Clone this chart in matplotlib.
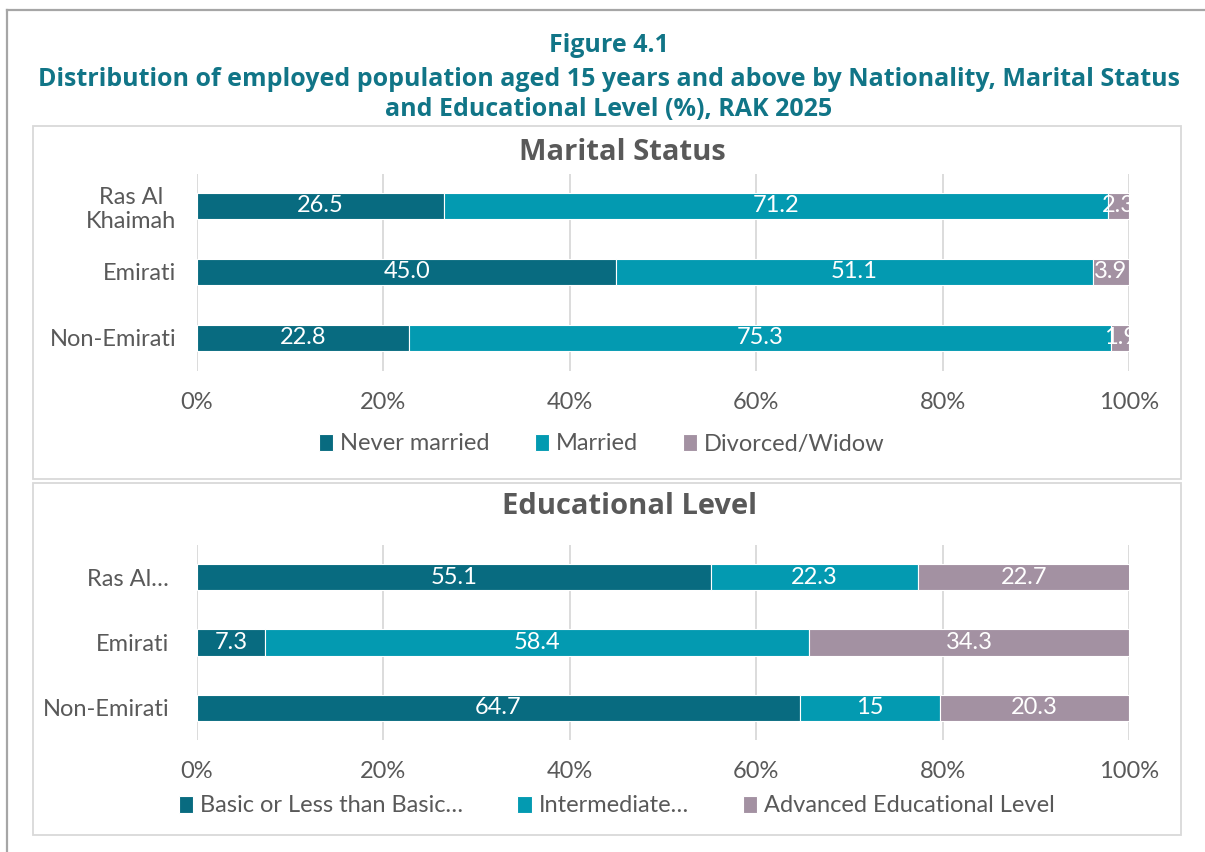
import matplotlib.pyplot as plt
from matplotlib.patches import Rectangle
from matplotlib.lines import Line2D
import numpy as np

# data
groups_marital = ['Ras Al\nKhaimah', 'Emirati', 'Non-Emirati']
marital_labels = ['Never married', 'Married', 'Divorced/Widow']
never_married = [26.5, 45.0, 22.8]
married = [71.2, 51.1, 75.3]
divorced = [2.3, 3.9, 1.9]

groups_edu = ['Ras Al…', 'Emirati', 'Non-Emirati']
edu_labels = ['Basic or Less than Basic…', 'Intermediate…', 'Advanced Educational Level']
basic = [55.1, 7.3, 64.7]
intermediate = [22.3, 58.4, 15]
advanced = [22.7, 34.3, 20.3]

xticks = [0, 20, 40, 60, 80, 100]

colors = ['#086b80', '#039ab1', '#a391a2']
teal = '#117587'
grey_txt = '#595959'

W, H = 1205, 852
plt.rcParams['font.family'] = ['Lato', 'DejaVu Sans']

fig = plt.figure(figsize=(W / 100, H / 100), dpi=100)


def fx(px):
    return px / W


def fy(py):
    return 1 - py / H


# outer frame (only top and left visible) and the two panel boxes
fig.add_artist(Line2D([fx(7), 1], [fy(10), fy(10)], color='#a6a6a6', lw=1.6))
fig.add_artist(Line2D([fx(7), fx(7)], [fy(10), 0], color='#a6a6a6', lw=1.6))
for top, bot in [(126, 479), (483, 835)]:
    fig.add_artist(Rectangle((fx(33), fy(bot)), fx(1181) - fx(33), fy(top) - fy(bot),
                             transform=fig.transFigure, fill=False,
                             edgecolor='#d9d9d9', lw=1.3))

# figure title
title_kw = dict(ha='center', va='center', fontsize=18, fontweight='bold',
                color=teal, family='Open Sans')
fig.text(fx(609), fy(45), 'Figure 4.1', **title_kw)
fig.text(fx(609), fy(79), 'Distribution of employed population aged 15 years and above by Nationality, Marital Status',
         **title_kw)
fig.text(fx(609), fy(109), 'and Educational Level (%), RAK 2025', **title_kw)


def draw_panel(top_px, bot_px, first_c, last_c, groups, series, names, fmt,
               title, title_x, title_y, leg_x, leg_y, label_pad, colspace):
    unit = (last_c - first_c) / 2
    ax = fig.add_axes([fx(197), fy(bot_px), fx(1129) - fx(197), fy(top_px) - fy(bot_px)])
    y = np.arange(len(groups))
    left = np.zeros(len(groups))
    for vals, name, c in zip(series, names, colors):
        vals = np.array(vals, dtype=float)
        bars = ax.barh(y, vals, left=left, height=0.4, color=c, edgecolor='white',
                       linewidth=0.8, label=name, zorder=3)
        for b, v in zip(bars, vals):
            ax.text(b.get_x() + b.get_width() / 2, b.get_y() + b.get_height() / 2,
                    fmt(v), ha='center', va='center', color='white', fontsize=17,
                    zorder=4, clip_on=False)
        left += vals
    ax.set_xlim(0, 100)
    ax.set_ylim(2 + (bot_px - last_c) / unit, -(first_c - top_px) / unit)
    ax.set_yticks(y)
    ax.set_yticklabels(groups, multialignment='center')
    ax.set_xticks(xticks)
    ax.set_xticklabels([f'{t}%' for t in xticks])
    ax.tick_params(axis='x', length=0, pad=15, labelsize=17, labelcolor=grey_txt)
    ax.tick_params(axis='y', length=0, pad=label_pad, labelsize=17, labelcolor=grey_txt)
    ax.grid(axis='x', color='#d9d9d9', lw=1.3, zorder=0)
    for s in ax.spines.values():
        s.set_visible(False)
    ax.set_facecolor('none')
    fig.text(fx(title_x), fy(title_y), title, ha='center', va='center', fontsize=21,
             fontweight='bold', color=grey_txt, family='Open Sans')
    handles, labels = ax.get_legend_handles_labels()
    fig.legend(handles, labels, loc='center', bbox_to_anchor=(fx(leg_x), fy(leg_y)),
               ncol=3, frameon=False, fontsize=17, labelcolor=grey_txt,
               handlelength=0.6, handleheight=0.7, handletextpad=0.3,
               columnspacing=colspace)
    return ax


draw_panel(174, 371, 206, 338, groups_marital, [never_married, married, divorced],
           marital_labels, lambda v: f'{v:.1f}', 'Marital Status', 622, 152, 602, 444, 15, 1.9)
draw_panel(545, 740, 577, 708, groups_edu, [basic, intermediate, advanced],
           edu_labels, lambda v: f'{v:g}', 'Educational Level', 630, 507, 617, 806, 20, 2.3)

fig.savefig('out.png', dpi=100, facecolor='white')
